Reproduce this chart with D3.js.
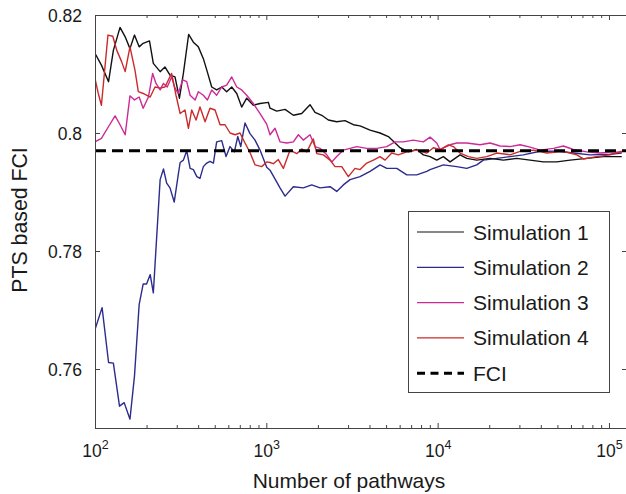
<!DOCTYPE html>
<html><head><meta charset="utf-8">
<script src="https://cdn.jsdelivr.net/npm/d3@7"></script>
<style>
body{margin:0;background:#fff;}
svg{display:block;}
text{font-family:"Liberation Sans",Arial,Helvetica,sans-serif;fill:#1a1a1a;}
</style>
</head><body>
<svg id="chart" width="626" height="494"></svg>
<script>
// ---------------- data ----------------
const seriesNames = ["Simulation 1", "Simulation 2", "Simulation 3", "Simulation 4"];
const fciLabel = "FCI";
const fciValue = 0.797;
const yTickValues = [0.76, 0.78, 0.8, 0.82];
const yTickLabels = ["0.76", "0.78", "0.8", "0.82"];
const xTickValues = [1e2, 1e3, 1e4, 1e5];
const xTickExponents = ["2", "3", "4", "5"];
const xTitle = "Number of pathways";
const yTitle = "PTS based FCI";

const sim1 = [[100,0.8135],[109,0.8115],[120,0.8087],[128,0.8140],[140,0.8179],[150,0.8163],[160,0.8143],[170,0.8166],[181,0.8146],[191,0.8152],[208,0.8156],[219,0.8118],[240,0.8104],[256,0.8112],[274,0.8098],[293,0.8095],[311,0.8059],[328,0.8101],[352,0.8167],[375,0.8154],[401,0.8146],[429,0.8126],[452,0.8104],[480,0.8078],[513,0.8073],[549,0.8078],[587,0.8070],[628,0.8078],[672,0.8067],[718,0.8044],[768,0.8059],[840,0.8047],[919,0.8050],[1028,0.8052],[1051,0.8042],[1150,0.8037],[1286,0.8040],[1438,0.8030],[1609,0.8033],[1799,0.8048],[1924,0.8035],[2106,0.8030],[2301,0.8022],[2576,0.8019],[2880,0.8021],[3220,0.8014],[3524,0.8012],[4031,0.8005],[4610,0.8000],[5155,0.7994],[5514,0.7986],[6033,0.7975],[6745,0.7968],[7551,0.7972],[8253,0.7963],[9031,0.7960],[9879,0.7954],[10797,0.7960],[11815,0.7951],[13511,0.7963],[14788,0.7957],[16913,0.7954],[20227,0.7957],[24177,0.7954],[28953,0.7957],[34624,0.7954],[41404,0.7951],[49580,0.7951],[59275,0.7954],[74208,0.7957],[92760,0.7960],[118730,0.7960]];

const sim2 = [[100,0.7667],[110,0.7704],[120,0.7611],[128,0.7610],[139,0.7537],[148,0.7543],[160,0.7515],[170,0.7588],[181,0.7709],[191,0.7744],[200,0.7744],[210,0.7760],[219,0.7729],[240,0.7921],[251,0.7939],[262,0.7915],[274,0.7907],[290,0.7883],[306,0.7929],[314,0.7950],[328,0.7954],[343,0.7970],[359,0.7940],[375,0.7938],[393,0.7926],[410,0.7923],[429,0.7943],[449,0.7949],[469,0.7952],[491,0.7949],[513,0.7985],[549,0.7987],[582,0.7960],[614,0.7977],[651,0.7968],[681,0.7994],[709,0.7977],[751,0.8017],[803,0.7999],[859,0.7988],[919,0.7971],[1005,0.7942],[1051,0.7937],[1202,0.7907],[1286,0.7893],[1438,0.7909],[1644,0.7907],[1841,0.7912],[2059,0.7907],[2355,0.7909],[2576,0.7901],[2815,0.7912],[3081,0.7921],[3524,0.7926],[4031,0.7935],[4610,0.7946],[5045,0.7940],[5771,0.7940],[6601,0.7929],[7551,0.7929],[8641,0.7935],[9031,0.7938],[10797,0.7946],[12926,0.7943],[14788,0.7940],[16913,0.7946],[18484,0.7954],[22131,0.7957],[26456,0.7960],[31645,0.7963],[39609,0.7969],[49580,0.7969],[61967,0.7966],[77575,0.7963],[101485,0.7964],[118730,0.7966]];

const sim3 = [[100,0.7985],[109,0.7991],[120,0.8011],[131,0.8029],[140,0.8014],[150,0.7997],[160,0.8063],[170,0.8056],[181,0.8061],[191,0.8042],[205,0.8061],[217,0.8101],[227,0.8084],[240,0.8073],[251,0.8084],[264,0.8078],[280,0.8095],[293,0.8076],[306,0.8067],[325,0.8090],[343,0.8087],[359,0.8064],[384,0.8056],[401,0.8070],[429,0.8064],[453,0.8056],[480,0.8073],[513,0.8064],[549,0.8078],[587,0.8081],[628,0.8095],[672,0.8078],[718,0.8073],[768,0.8064],[840,0.8050],[919,0.8033],[1005,0.8015],[1051,0.7997],[1124,0.8008],[1202,0.7985],[1316,0.7983],[1438,0.7985],[1538,0.7997],[1644,0.7988],[1799,0.7997],[1924,0.7977],[2059,0.7974],[2253,0.7963],[2409,0.7951],[2576,0.7960],[2815,0.7971],[3081,0.7974],[3372,0.7977],[3857,0.7974],[4411,0.7974],[5045,0.7977],[5641,0.7985],[6306,0.7985],[7215,0.7988],[8253,0.7985],[9031,0.7993],[9879,0.7983],[10328,0.7972],[11815,0.7980],[12926,0.7983],[14788,0.7983],[17680,0.7980],[20227,0.7983],[23132,0.7978],[26456,0.7977],[30269,0.7980],[34624,0.7976],[39609,0.7971],[47359,0.7974],[54175,0.7978],[61967,0.7972],[74208,0.7968],[88716,0.7966],[106100,0.7968],[118730,0.7967]];

const sim4 = [[100,0.8092],[104.5,0.8067],[109,0.8047],[119,0.8166],[127,0.8164],[134,0.8140],[143,0.8121],[150,0.8104],[160,0.8146],[171,0.8107],[179,0.8070],[191,0.8067],[210,0.8061],[224,0.8078],[240,0.8076],[256,0.8078],[280,0.8101],[297,0.8064],[314,0.8033],[335,0.8039],[351,0.8008],[367,0.8039],[389,0.8022],[410,0.8044],[439,0.8019],[469,0.8042],[502,0.8039],[537,0.8014],[574,0.8014],[614,0.8000],[657,0.7997],[702,0.8000],[751,0.7983],[803,0.7967],[859,0.7946],[940,0.7943],[1005,0.7951],[1051,0.7950],[1099,0.7948],[1175,0.7955],[1257,0.7940],[1376,0.7971],[1505,0.7965],[1609,0.7973],[1721,0.7968],[1881,0.7990],[1969,0.7965],[2152,0.7963],[2355,0.7954],[2518,0.7943],[2755,0.7943],[3011,0.7926],[3295,0.7940],[3524,0.7938],[3857,0.7949],[4214,0.7954],[4610,0.7960],[4932,0.7954],[5397,0.7966],[5897,0.7963],[6601,0.7968],[7551,0.7971],[8641,0.7966],[9438,0.7975],[10328,0.7972],[11548,0.7980],[12347,0.7977],[13511,0.7966],[15110,0.7960],[16913,0.7957],[19350,0.7960],[22131,0.7966],[26456,0.7963],[30269,0.7969],[36200,0.7971],[43356,0.7966],[54175,0.7969],[64865,0.7963],[70895,0.7956],[84880,0.7960],[101485,0.7963],[118730,0.7969]];

// ---------------- drawing ----------------
const allSeries = [sim1, sim2, sim3, sim4];
const colors = ["#111111", "#2c2c8c", "#cc2a96", "#cc2a2a"];

const plotL = 95, plotR = 627, plotT = 15, plotB = 428;
const svg = d3.select("#chart");
svg.append("rect").attr("width", 626).attr("height", 494).attr("fill", "#fff");

const x = d3.scaleLog().domain([100, 1.274e5]).range([plotL, plotR]);
const y = d3.scaleLinear().domain([0.75, 0.82]).range([plotB, plotT]);

svg.append("clipPath").attr("id", "clip")
  .append("rect").attr("x", plotL).attr("y", plotT).attr("width", plotR - plotL).attr("height", plotB - plotT);

const plot = svg.append("g").attr("clip-path", "url(#clip)");

const line = d3.line().x(d => x(d[0])).y(d => y(d[1]));

// series
const drawOrder = [1, 0, 2, 3];
drawOrder.forEach(i => {
  plot.append("path").datum(allSeries[i])
    .attr("d", line).attr("fill", "none")
    .attr("stroke", colors[i]).attr("stroke-width", 1.4)
    .attr("stroke-linejoin", "round");
});
// FCI dashed reference
plot.append("line")
  .attr("x1", x(100)).attr("x2", x(1.274e5))
  .attr("y1", y(fciValue)).attr("y2", y(fciValue))
  .attr("stroke", "#000").attr("stroke-width", 3).attr("stroke-dasharray", "11,6");

// minor ticks
const minorTicks = [];
[100, 1000, 10000, 100000].forEach(d => { for (let k = 2; k <= 9; k++) if (d * k <= 1.274e5) minorTicks.push(d * k); });

const axisColor = "#444";
function styleAxis(g) {
  g.select(".domain").remove();
  g.selectAll(".tick line").attr("stroke", axisColor).attr("stroke-width", 1);
  g.attr("font-family", null).attr("font-size", null);
}

// bottom
svg.append("g").attr("transform", `translate(0,${plotB})`)
  .call(d3.axisBottom(x).tickValues(minorTicks).tickSize(-3).tickFormat(() => ""))
  .call(styleAxis);
const bottomMajor = svg.append("g").attr("transform", `translate(0,${plotB})`)
  .call(d3.axisBottom(x).tickValues(xTickValues).tickSize(-5).tickPadding(0).tickFormat(() => ""))
  .call(styleAxis);
bottomMajor.selectAll(".tick text").each(function(d, i) {
  const t = d3.select(this).attr("y", 29).attr("dy", null).attr("font-size", 17.5).attr("text-anchor", "middle");
  t.append("tspan").text("10");
  t.append("tspan").attr("dy", -8).attr("font-size", 12.5).text(xTickExponents[i]);
});
// top
svg.append("g").attr("transform", `translate(0,${plotT})`)
  .call(d3.axisTop(x).tickValues(minorTicks).tickSize(-3).tickFormat(() => ""))
  .call(styleAxis);
svg.append("g").attr("transform", `translate(0,${plotT})`)
  .call(d3.axisTop(x).tickValues(xTickValues).tickSize(-5).tickFormat(() => ""))
  .call(styleAxis);
// left
const leftAxis = svg.append("g").attr("transform", `translate(${plotL},0)`)
  .call(d3.axisLeft(y).tickValues(yTickValues).tickSize(-5).tickPadding(13).tickFormat((d, i) => yTickLabels[i]))
  .call(styleAxis);
leftAxis.selectAll(".tick text").attr("font-size", 17.5).attr("x", -13).attr("dy", "0.35em");
// right
svg.append("g").attr("transform", `translate(${plotR},0)`)
  .call(d3.axisRight(y).tickValues(yTickValues).tickSize(-5).tickFormat(() => ""))
  .call(styleAxis);

// frame
svg.append("rect").attr("x", plotL + 0.5).attr("y", plotT + 0.5)
  .attr("width", plotR - plotL).attr("height", plotB - plotT)
  .attr("fill", "none").attr("stroke", axisColor).attr("stroke-width", 1);

// axis titles
svg.append("text").attr("x", 349).attr("y", 488).attr("text-anchor", "middle")
  .attr("font-size", 21).text(xTitle);
svg.append("text").attr("transform", "translate(27,220) rotate(-90)").attr("text-anchor", "middle")
  .attr("font-size", 21.3).text(yTitle);

// legend
const lg = svg.append("g");
lg.append("rect").attr("x", 408.5).attr("y", 211.5).attr("width", 201).attr("height", 181)
  .attr("fill", "#fff").attr("stroke", axisColor).attr("stroke-width", 1);
const legendItems = seriesNames.map((n, i) => ({ name: n, color: colors[i], dash: null, w: 1.2 }))
  .concat([{ name: fciLabel, color: "#000", dash: "8,5.5", w: 3 }]);
legendItems.forEach((it, i) => {
  const cy = 232 + i * 35.3;
  lg.append("line").attr("x1", 417).attr("x2", 464).attr("y1", cy).attr("y2", cy)
    .attr("stroke", it.color).attr("stroke-width", it.w).attr("stroke-dasharray", it.dash);
  lg.append("text").attr("x", 473).attr("y", cy).attr("dy", "0.36em")
    .attr("font-size", 21).text(it.name);
});
</script>
</body></html>
